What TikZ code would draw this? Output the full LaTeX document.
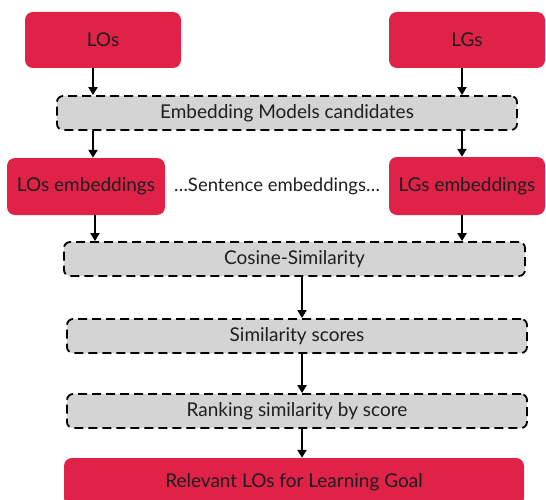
\documentclass[tikz,border=0pt]{standalone}
\usepackage{fontspec}
\setmainfont{Lato}
\usetikzlibrary{arrows.meta}
\definecolor{redbox}{HTML}{E02249}
\definecolor{graybox}{HTML}{D4D4D4}
\definecolor{txt}{HTML}{1E1E1E}
\tikzset{
  redbox/.style={fill=redbox, draw=none, rounded corners=8pt, text=txt, font=\fontsize{19}{22}\selectfont, inner sep=0pt},
  graybox/.style={fill=graybox, draw=black, line width=1.8pt, dash pattern=on 9pt off 5pt, rounded corners=6pt, text=txt, font=\fontsize{19}{22}\selectfont, minimum width=460pt, minimum height=34pt, inner sep=0pt},
  arr/.style={draw=black, line width=2.2pt, -{Triangle[length=8pt,width=9pt]}},
  plain/.style={text=txt, font=\fontsize{18.5}{22}\selectfont}
}
\begin{document}
\begin{tikzpicture}[x=1pt,y=1pt]
\useasboundingbox (0,0) rectangle (546,-500);
\clip (0,0) rectangle (546,-500);
\node[redbox, minimum width=156pt, minimum height=56pt] (LOs) at (103,-40) {LOs};
\node[redbox, minimum width=156pt, minimum height=56pt] (LGs) at (467,-40) {LGs};
\node[graybox] (emb) at (287,-113) {Embedding Models candidates};
\node[redbox, minimum width=158pt, minimum height=57pt] (LOsE) at (86,-186.5) {LOs embeddings};
\node[redbox, minimum width=156pt, minimum height=58pt] (LGsE) at (467,-186) {LGs embeddings};
\node[plain] (sent) at (277,-186) {…Sentence embeddings…};
\node[graybox, minimum width=461pt] (cos) at (294.5,-259) {Cosine-Similarity};
\node[graybox] (sim) at (297,-336) {Similarity scores};
\node[graybox] (rank) at (297,-411) {Ranking similarity by score};
\node[redbox, minimum width=460pt, minimum height=48pt] (rel) at (294,-482) {Relevant LOs for Learning Goal};
\coordinate (xl) at (93,0);
\coordinate (xr) at (462,0);
\coordinate (xl2) at (95,0);
\coordinate (xc) at (302,0);
\draw[arr] (LOs.south -| xl) -- (emb.north -| xl);
\draw[arr] (LGs.south -| xr) -- (emb.north -| xr);
\draw[arr] (emb.south -| xl) -- (LOsE.north -| xl);
\draw[arr] (emb.south -| xr) -- (LGsE.north -| xr);
\draw[arr] (LOsE.south -| xl2) -- (cos.north -| xl2);
\draw[arr] (LGsE.south -| xr) -- (cos.north -| xr);
\draw[arr] (cos.south -| xc) -- (sim.north -| xc);
\draw[arr] (sim.south -| xc) -- (rank.north -| xc);
\draw[arr] (rank.south -| xc) -- (rel.north -| xc);
\end{tikzpicture}
\end{document}
